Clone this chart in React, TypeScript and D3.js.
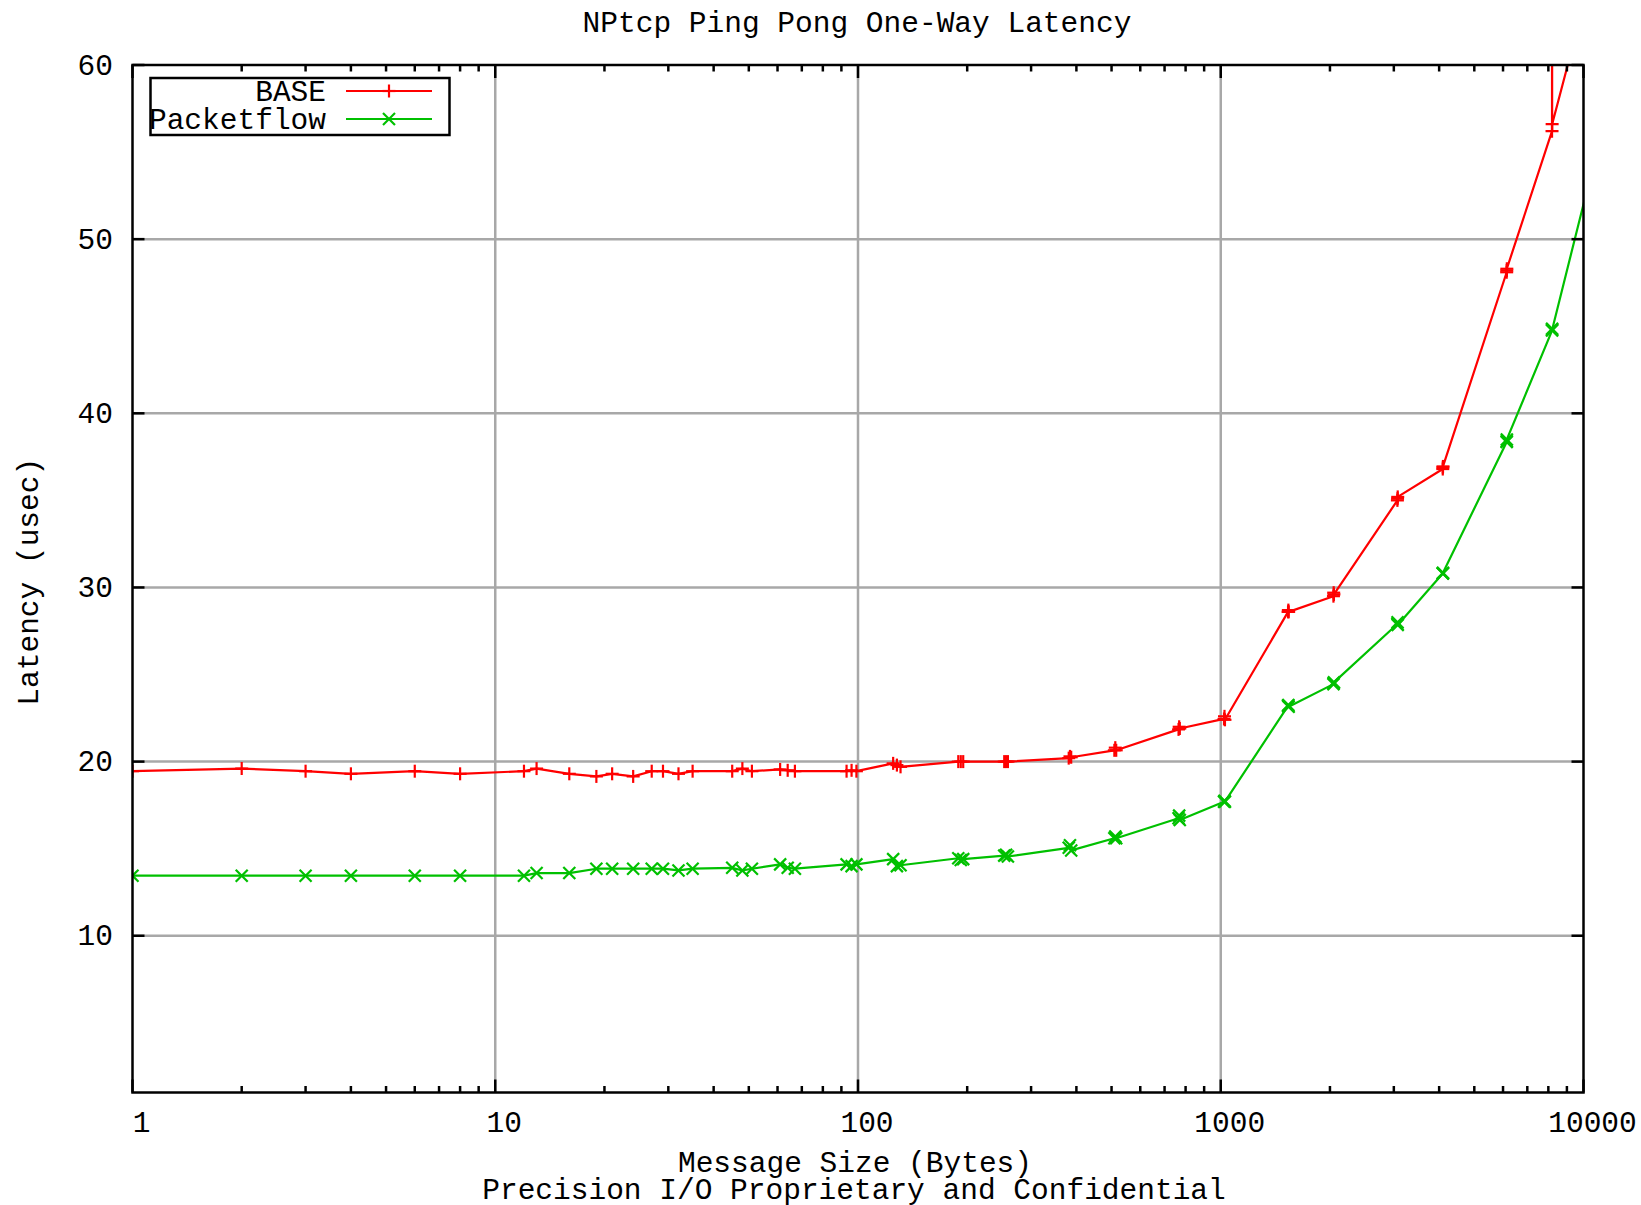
import React from "react";
import * as d3 from "d3";

const sizes = [1, 2, 3, 4, 6, 8, 12, 13, 16, 19, 21, 24, 27, 29, 32, 35, 45, 48, 51, 61, 64, 67, 93, 96, 99, 125, 128, 131, 189, 192, 195, 253, 256, 259, 381, 384, 387, 509, 512, 515, 765, 768, 771, 1021, 1024, 1027, 1533, 1536, 1539, 2045, 2048, 2051, 3069, 3072, 3075, 4093, 4096, 4099, 6141, 6144, 6147, 8189, 8192, 8195, 12285];

const baseLatency = [19.45, 19.6, 19.45, 19.3, 19.45, 19.3, 19.45, 19.6, 19.3, 19.15, 19.3, 19.15, 19.45, 19.45, 19.3, 19.45, 19.45, 19.6, 19.45, 19.55, 19.5, 19.45, 19.45, 19.5, 19.45, 19.9, 19.8, 19.7, 20.0, 20.0, 20.0, 20.0, 20.0, 20.0, 20.2, 20.3, 20.25, 20.65, 20.8, 20.65, 21.85, 22.0, 21.9, 22.45, 22.6, 22.4, 28.6, 28.7, 28.6, 29.5, 29.7, 29.6, 35.0, 35.1, 35.2, 36.8, 36.9, 36.95, 48.1, 48.2, 48.3, 56.2, 80.0, 56.6, 70.5];

const packetflowLatency = [13.45, 13.45, 13.45, 13.45, 13.45, 13.45, 13.45, 13.6, 13.6, 13.85, 13.85, 13.85, 13.85, 13.85, 13.75, 13.85, 13.9, 13.75, 13.85, 14.1, 13.9, 13.85, 14.1, 14.0, 14.1, 14.4, 14.0, 14.05, 14.45, 14.35, 14.4, 14.6, 14.65, 14.55, 15.05, 15.2, 14.9, 15.6, 15.7, 15.6, 16.75, 16.9, 16.65, 17.7, 17.75, 17.7, 23.2, 23.25, 23.15, 24.45, 24.5, 24.55, 27.9, 28.0, 27.85, 30.8, 30.8, 30.85, 38.35, 38.4, 38.5, 44.75, 44.85, 44.8, 59.45];

const yTicks = [10, 20, 30, 40, 50, 60];
const xTicks = [1, 10, 100, 1000, 10000];
const xTickLabels = ["1", "10", "100", "1000", "10000"];
const seriesNames = ["BASE", "Packetflow"];
const seriesColors = ["#ff0000", "#00c000"];

const title = "NPtcp Ping Pong One-Way Latency";
const xLabel = "Message Size (Bytes)";
const xLabel2 = "Precision I/O Proprietary and Confidential";
const yLabel = "Latency (usec)";

const W = 1641;
const H = 1205;
const L = 132.5, R = 1583.5, T = 65, B = 1092.5;

const font = "'Liberation Mono', 'DejaVu Sans Mono', monospace";
const fs = 29.5;
const dy = 1.5;

export default function App() {
  const x = d3.scaleLog().domain([1, 10000]).range([L, R]);
  const y = d3.scaleLinear().domain([1, 60]).range([B, T]);

  const minorTicks: number[] = [];
  for (let dec = 1; dec < 10000; dec *= 10) {
    for (let k = 2; k <= 9; k++) minorTicks.push(dec * k);
  }

  const line = d3
    .line<number>()
    .x((_, i) => x(sizes[i]))
    .y((v) => y(v));

  const series = [baseLatency, packetflowLatency];

  const plus = (cx: number, cy: number, color: string, key: string) => (
    <g key={key} stroke={color} strokeWidth={2.2}>
      <line x1={cx - 6.5} x2={cx + 6.5} y1={cy} y2={cy} />
      <line x1={cx} x2={cx} y1={cy - 6.5} y2={cy + 6.5} />
    </g>
  );
  const cross = (cx: number, cy: number, color: string, key: string) => (
    <g key={key} stroke={color} strokeWidth={2.2}>
      <line x1={cx - 6} x2={cx + 6} y1={cy - 6} y2={cy + 6} />
      <line x1={cx - 6} x2={cx + 6} y1={cy + 6} y2={cy - 6} />
    </g>
  );
  const markerFns = [plus, cross];

  const textStyle = { fontFamily: font, fontSize: fs } as React.CSSProperties;

  return (
    <svg
      width={W}
      height={H}
      style={{ position: "absolute", left: 0, top: 0, background: "#fff" }}
    >
      <defs>
        <clipPath id="plotclip">
          <rect x={L} y={T} width={R - L} height={B - T} />
        </clipPath>
      </defs>
      <rect x={0} y={0} width={W} height={H} fill="#fff" />

      {/* grid */}
      <g stroke="#a8a8a8" strokeWidth={2.5}>
        {yTicks
          .filter((t) => t < 60)
          .map((t) => (
            <line key={"gy" + t} x1={L} x2={R} y1={y(t)} y2={y(t)} />
          ))}
        {xTicks
          .filter((t) => t > 1 && t < 10000)
          .map((t) => (
            <line key={"gx" + t} x1={x(t)} x2={x(t)} y1={T} y2={B} />
          ))}
      </g>

      {/* data */}
      <g clipPath="url(#plotclip)">
        {series.map((s, si) => (
          <path
            key={"s" + si}
            d={line(s) || ""}
            fill="none"
            stroke={seriesColors[si]}
            strokeWidth={2.2}
            strokeLinejoin="round"
          />
        ))}
        {series.map((s, si) =>
          s.map((v, i) =>
            sizes[i] <= 10000 && v <= 60
              ? markerFns[si](x(sizes[i]), y(v), seriesColors[si], `m${si}-${i}`)
              : null
          )
        )}
      </g>

      {/* ticks */}
      <g stroke="#000" strokeWidth={2.5}>
        {yTicks.map((t) => (
          <g key={"ty" + t}>
            <line x1={L} x2={L + 12} y1={y(t)} y2={y(t)} />
            <line x1={R} x2={R - 12} y1={y(t)} y2={y(t)} />
          </g>
        ))}
        {xTicks.map((t) => (
          <g key={"tx" + t}>
            <line x1={x(t)} x2={x(t)} y1={B} y2={B - 13} />
            <line x1={x(t)} x2={x(t)} y1={T} y2={T + 13} />
          </g>
        ))}
        {minorTicks.map((t) => (
          <g key={"mx" + t}>
            <line x1={x(t)} x2={x(t)} y1={B} y2={B - 6.5} />
            <line x1={x(t)} x2={x(t)} y1={T} y2={T + 6.5} />
          </g>
        ))}
      </g>

      {/* border */}
      <rect x={L} y={T} width={R - L} height={B - T} fill="none" stroke="#000" strokeWidth={2.5} />

      {/* tick labels */}
      <g style={textStyle} fill="#000">
        {yTicks.map((t) => (
          <text key={"ly" + t} x={113} y={y(t) + dy} textAnchor="end" dominantBaseline="central">
            {String(t)}
          </text>
        ))}
        {xTicks.map((t, i) => (
          <text key={"lx" + t} x={x(t) + 9} y={1122 + dy} textAnchor="middle" dominantBaseline="central">
            {xTickLabels[i]}
          </text>
        ))}
        <text x={857} y={22 + dy} textAnchor="middle" dominantBaseline="central">
          {title}
        </text>
        <text x={855} y={1162 + dy} textAnchor="middle" dominantBaseline="central">
          {xLabel}
        </text>
        <text x={854} y={1189 + dy} textAnchor="middle" dominantBaseline="central">
          {xLabel2}
        </text>
        <text
          x={0}
          y={0}
          textAnchor="middle"
          dominantBaseline="central"
          transform={`translate(${28 + dy},${(T + B) / 2 + 3}) rotate(-90)`}
        >
          {yLabel}
        </text>
      </g>

      {/* legend */}
      <g>
        <rect x={150.5} y={78} width={299} height={57} fill="#fff" stroke="#000" strokeWidth={2.5} />
        {seriesNames.map((n, i) => {
          const ry = 91 + i * 28;
          return (
            <g key={"leg" + n}>
              <text
                x={326}
                y={ry + dy}
                textAnchor="end"
                dominantBaseline="central"
                style={textStyle}
                fill="#000"
              >
                {n}
              </text>
              <line x1={346} x2={432} y1={ry} y2={ry} stroke={seriesColors[i]} strokeWidth={2.2} />
              {markerFns[i](389, ry, seriesColors[i], "lm" + i)}
            </g>
          );
        })}
      </g>
    </svg>
  );
}
